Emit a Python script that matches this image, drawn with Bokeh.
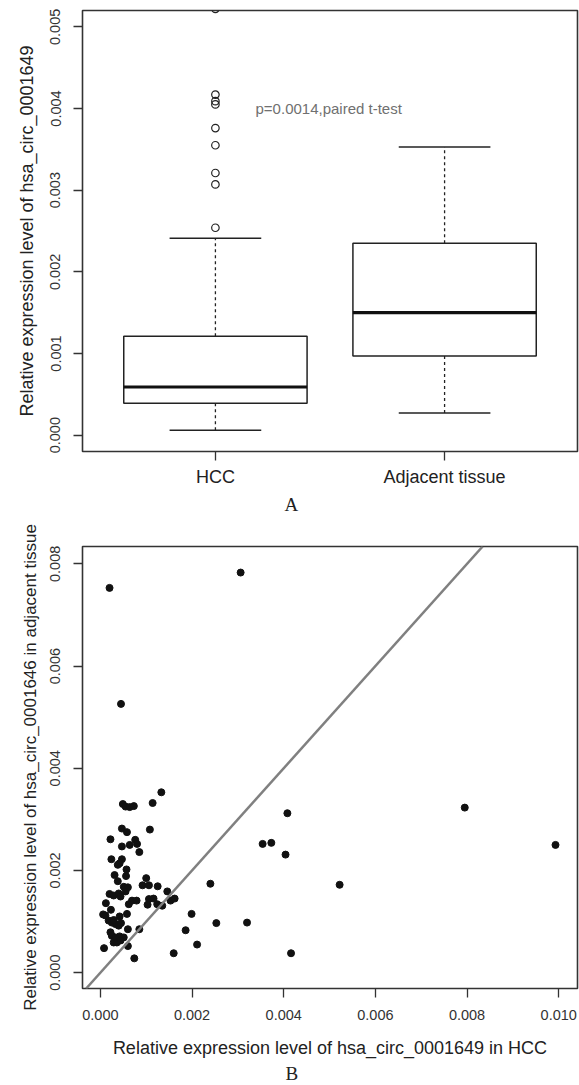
import math
from bokeh.plotting import figure
from bokeh.models import FixedTicker, NumeralTickFormatter, Slope, Title, Range1d
from bokeh.layouts import column
from bokeh.embed import file_html
from bokeh.resources import INLINE
from bokeh.core.properties import value

# ---------------- Panel A data (boxplot) ----------------
groups = ["HCC", "Adjacent tissue"]
group_pos = [1, 2]
lower_whisker = [0.00006, 0.00027]
q1 = [0.00039, 0.00097]
median = [0.00059, 0.00150]
q3 = [0.00121, 0.00235]
upper_whisker = [0.00241, 0.00353]
hcc_outliers = [0.00254, 0.00307, 0.00321, 0.00355, 0.00376, 0.00405,
                0.00409, 0.00417, 0.00522, 0.00795, 0.00993]
adj_outliers = [0.00526, 0.00753, 0.00783]
p_text = "p=0.0014,paired t-test"
a_ticks = [0.000, 0.001, 0.002, 0.003, 0.004, 0.005]

# ---------------- Panel B data (scatter) ----------------
hcc_x = [0.00133, 0.00114, 0.00049, 0.00055, 0.00064, 0.00073, 0.00108, 0.00047,
         0.00058, 0.00022, 0.00076, 0.00080, 0.00064, 0.00047, 0.00085, 0.00024,
         0.00047, 0.00042, 0.00038, 0.00057, 0.00031, 0.00056, 0.00100, 0.00038,
         0.00092, 0.00106, 0.00051, 0.00060, 0.00055, 0.00125, 0.00240, 0.00146,
         0.00020, 0.00029, 0.00040, 0.00044, 0.00069, 0.00079, 0.00062, 0.00106,
         0.00116, 0.00103, 0.00124, 0.00135, 0.00153, 0.00162, 0.00012, 0.00023,
         0.00006, 0.00011, 0.00042, 0.00058, 0.00199, 0.00018, 0.00025, 0.00033,
         0.00040, 0.00029, 0.00045, 0.00253, 0.00320, 0.00060, 0.00085, 0.00022,
         0.00025, 0.00033, 0.00042, 0.00051, 0.00186, 0.00029, 0.00036, 0.00044,
         0.00211, 0.00008, 0.00060, 0.00160, 0.00416, 0.00074, 0.00354, 0.00373,
         0.00404, 0.00408, 0.00522, 0.00795, 0.00993, 0.00020, 0.00306, 0.00045]
adj_y = [0.00353, 0.00332, 0.00330, 0.00325, 0.00324, 0.00326, 0.00280, 0.00282,
         0.00275, 0.00261, 0.00260, 0.00252, 0.00250, 0.00247, 0.00236, 0.00222,
         0.00222, 0.00214, 0.00211, 0.00202, 0.00191, 0.00189, 0.00185, 0.00179,
         0.00171, 0.00171, 0.00168, 0.00167, 0.00159, 0.00169, 0.00174, 0.00159,
         0.00154, 0.00151, 0.00155, 0.00149, 0.00141, 0.00141, 0.00134, 0.00144,
         0.00145, 0.00133, 0.00134, 0.00131, 0.00141, 0.00145, 0.00136, 0.00123,
         0.00114, 0.00112, 0.00110, 0.00115, 0.00115, 0.00102, 0.00098, 0.00095,
         0.00092, 0.00103, 0.00097, 0.00097, 0.00098, 0.00085, 0.00085, 0.00079,
         0.00072, 0.00069, 0.00071, 0.00069, 0.00083, 0.00059, 0.00059, 0.00063,
         0.00055, 0.00048, 0.00052, 0.00038, 0.00038, 0.00028, 0.00252, 0.00254,
         0.00231, 0.00312, 0.00172, 0.00323, 0.00250, 0.00753, 0.00783, 0.00526]
b_xticks = [0.000, 0.002, 0.004, 0.006, 0.008, 0.010]
b_yticks = [0.000, 0.002, 0.004, 0.006, 0.008]

SANS = "Liberation Sans"
SERIF = "Liberation Serif"
INK = "#222222"


def style(p, ylabel_standoff):
    p.background_fill_color = "white"
    p.border_fill_color = "white"
    p.outline_line_color = "#333333"
    p.outline_line_width = 1.6
    p.xgrid.visible = False
    p.ygrid.visible = False
    for ax in (p.xaxis[0], p.yaxis[0]):
        ax.axis_line_color = None
        ax.major_tick_in = 0
        ax.major_tick_out = 9
        ax.major_tick_line_color = "#333333"
        ax.major_tick_line_width = 1.3
        ax.minor_tick_line_color = None
        ax.major_label_text_font = SANS
        ax.major_label_text_font_size = "14.5px"
        ax.major_label_text_color = "#333333"
        ax.axis_label_text_font = SANS
        ax.axis_label_text_font_size = "18px"
        ax.axis_label_text_font_style = "normal"
        ax.axis_label_text_color = INK
    p.yaxis[0].major_label_orientation = "parallel"
    p.yaxis[0].major_label_standoff = 13
    p.yaxis[0].axis_label_standoff = ylabel_standoff


# ---------------- Panel A ----------------
p1 = figure(width=579, height=518, output_backend="svg", toolbar_location=None,
            x_range=Range1d(0.42, 2.58), y_range=Range1d(-0.0002, 0.0052),
            min_border_left=80, min_border_right=2, min_border_top=10,
            min_border_bottom=67)
style(p1, 11)

half = 0.4
cap = 0.2
p1.segment(x0=group_pos, y0=q3, x1=group_pos, y1=upper_whisker,
           line_color=INK, line_width=1.3, line_dash="3 3")
p1.segment(x0=group_pos, y0=q1, x1=group_pos, y1=lower_whisker,
           line_color=INK, line_width=1.3, line_dash="3 3")
p1.segment(x0=[g - cap for g in group_pos], y0=upper_whisker,
           x1=[g + cap for g in group_pos], y1=upper_whisker,
           line_color=INK, line_width=1.5)
p1.segment(x0=[g - cap for g in group_pos], y0=lower_whisker,
           x1=[g + cap for g in group_pos], y1=lower_whisker,
           line_color=INK, line_width=1.5)
p1.vbar(x=group_pos, width=2 * half, bottom=q1, top=q3,
        fill_color="white", line_color=INK, line_width=1.5)
p1.segment(x0=[g - half for g in group_pos], y0=median,
           x1=[g + half for g in group_pos], y1=median,
           line_color="#111111", line_width=3.2)
p1.scatter(x=[group_pos[0]] * len(hcc_outliers), y=hcc_outliers, marker="circle",
           size=7.5, fill_color=None, line_color=INK, line_width=1.2)
p1.scatter(x=[group_pos[1]] * len(adj_outliers), y=adj_outliers, marker="circle",
           size=7.5, fill_color=None, line_color=INK, line_width=1.2)
p1.text(x=[1.175], y=[0.004], text=[p_text], text_font=value(SANS),
        text_font_size=value("15px"), text_color="#707070",
        text_baseline="middle", text_align="left")

p1.xaxis.ticker = FixedTicker(ticks=group_pos)
p1.xaxis.major_label_overrides = {group_pos[0]: groups[0], group_pos[1]: groups[1]}
p1.xaxis.major_label_text_font_size = "18px"
p1.xaxis.major_label_text_color = INK
p1.xaxis.major_label_standoff = 6
p1.yaxis.ticker = FixedTicker(ticks=a_ticks)
p1.yaxis.formatter = NumeralTickFormatter(format="0.000")
p1.yaxis.axis_label = "Relative expression level of hsa_circ_0001649"
p1.add_layout(Title(text="A", align="left", offset=202, standoff=5, text_font=SERIF,
                    text_font_size="19px", text_font_style="normal",
                    text_color=INK), "below")

# ---------------- Panel B ----------------
p2 = figure(width=579, height=567, output_backend="svg", toolbar_location=None,
            x_range=Range1d(-0.00039, 0.01041), y_range=Range1d(-0.00031, 0.00834),
            min_border_left=82, min_border_right=2, min_border_top=28,
            min_border_bottom=97)
style(p2, 8)
p2.scatter(x=hcc_x, y=adj_y, marker="circle", size=7, fill_color="#111111",
           line_color="#111111")
p2.add_layout(Slope(gradient=1, y_intercept=0, line_color="#808080", line_width=2.5))
p2.xaxis.ticker = FixedTicker(ticks=b_xticks)
p2.yaxis.ticker = FixedTicker(ticks=b_yticks)
p2.xaxis.formatter = NumeralTickFormatter(format="0.000")
p2.yaxis.formatter = NumeralTickFormatter(format="0.000")
p2.xaxis.major_label_standoff = 12
p2.xaxis.axis_label_standoff = 15
p2.xaxis.axis_label = "Relative expression level of hsa_circ_0001649 in HCC"
p2.yaxis.axis_label = "Relative expression level of hsa_circ_0001646 in adjacent tissue"
p2.yaxis.axis_label_text_font_size = "17px"
p2.add_layout(Title(text="B", align="left", offset=203, standoff=0, text_font=SERIF,
                    text_font_size="19px", text_font_style="normal",
                    text_color=INK), "below")

layout = column(p1, p2, spacing=0)
open("out.html", "w").write(file_html(layout, INLINE))
